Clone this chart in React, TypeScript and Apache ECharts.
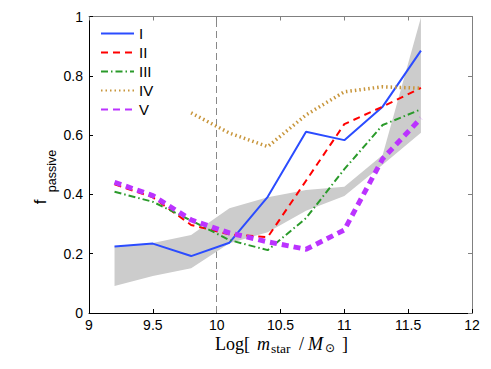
import React, { useEffect, useRef } from "react";
import * as echarts from "echarts";

const xs = [9.2, 9.5, 9.8, 10.1, 10.4, 10.7, 11.0, 11.3, 11.6];
const seriesI = [0.224, 0.234, 0.192, 0.237, 0.392, 0.611, 0.583, 0.696, 0.885];
const seriesII = [0.434, 0.39, 0.297, 0.265, 0.256, 0.446, 0.637, 0.696, 0.759];
const seriesIII = [0.409, 0.375, 0.312, 0.246, 0.212, 0.32, 0.485, 0.634, 0.687];
const seriesIV = [null, null, 0.675, 0.607, 0.561, 0.668, 0.746, 0.763, 0.758];
const seriesV = [0.441, 0.396, 0.314, 0.27, 0.24, 0.215, 0.28, 0.52, 0.657];
const bandLow = [0.091, 0.125, 0.151, 0.235, 0.272, 0.345, 0.395, 0.5, 0.608];
const bandHigh = [0.225, 0.236, 0.263, 0.353, 0.39, 0.415, 0.426, 0.533, 0.997];
const seriesNames = ["I", "II", "III", "IV", "V"];
const xTicks = { min: 9, max: 12, interval: 0.5 };
const yTicks = { min: 0, max: 1, interval: 0.2 };
const markX = 10;

const toPairs = (arr: (number | null)[]) =>
  xs.map((x, i) => [x, arr[i]] as [number, number | null]).filter((p) => p[1] !== null);

export default function App() {
  const ref = useRef<HTMLDivElement>(null);
  useEffect(() => {
    if (!ref.current) return;
    const chart = echarts.init(ref.current, undefined, { renderer: "svg" });
    const sans = "Liberation Sans, Arial, Helvetica, sans-serif";
    const serif = "Liberation Serif, Times New Roman, serif";
    const axisBase = (extra: any) => ({
      type: "value",
      splitLine: { show: false },
      axisTick: { inside: true, length: 4, lineStyle: { color: "#000" } },
      axisLine: { show: true, onZero: false, lineStyle: { color: "#000", width: 1 } },
      axisLabel: { color: "#000", fontSize: 14, fontFamily: sans },
      ...extra,
    });
    const grayAxis = {
      axisTick: { inside: true, length: 4, lineStyle: { color: "#808080" } },
      axisLine: { show: true, onZero: false, lineStyle: { color: "#808080", width: 1 } },
      axisLabel: { show: false },
    };
    const colors = ["#2b4cff", "#ff0000", "#2a9a2a", "#c8963c", "#bb33ff"];
    const styles: any[] = [
      { width: 2, type: "solid" },
      { width: 2, type: [7, 5] },
      { width: 2, type: [7, 3, 1.5, 3] },
      { width: 3.5, type: [1.5, 3] },
      { width: 5, type: [7, 5] },
    ];
    const datas = [seriesI, seriesII, seriesIII, seriesIV, seriesV];
    const lineSeries = seriesNames.map((name, k) => ({
      name,
      type: "line",
      data: toPairs(datas[k]),
      symbol: "none",
      showSymbol: false,
      z: 3,
      lineStyle: { color: colors[k], ...styles[k] },
      itemStyle: { color: colors[k] },
      ...(k === 0
        ? {
            markLine: {
              silent: true,
              symbol: "none",
              label: { show: false },
              lineStyle: { color: "#888", width: 1, type: [7, 4] },
              data: [{ xAxis: markX }],
              z: 1,
            },
          }
        : {}),
    }));
    chart.setOption({
      animation: false,
      grid: { left: 89, right: 19, top: 16.5, bottom: 56, containLabel: false },
      legend: {
        data: seriesNames,
        orient: "vertical",
        left: 95,
        top: 21,
        itemWidth: 33,
        itemHeight: 12,
        itemGap: 4,
        itemStyle: { opacity: 0 },
        textStyle: { fontSize: 15, lineHeight: 14.5, fontFamily: sans, color: "#000" },
      },
      xAxis: [
        axisBase({ ...xTicks, position: "bottom", axisLabel: { color: "#000", fontSize: 14, fontFamily: sans, margin: 5 } }),
        axisBase({ ...xTicks, position: "top", ...grayAxis }),
      ],
      yAxis: [
        axisBase({ ...yTicks, position: "left", axisLabel: { color: "#000", fontSize: 14, fontFamily: sans, margin: 6 } }),
        axisBase({ ...yTicks, position: "right", ...grayAxis }),
      ],
      series: [
        {
          name: "band",
          type: "custom",
          z: 1,
          silent: true,
          data: xs.map((x, i) => [x, bandLow[i], bandHigh[i]]),
          encode: { x: 0, y: [1, 2] },
          renderItem: (params: any, api: any) => {
            if (params.dataIndex !== 0) return null;
            const up = xs.map((x, i) => api.coord([x, bandHigh[i]]));
            const lo = xs.map((x, i) => api.coord([x, bandLow[i]])).reverse();
            return {
              type: "polygon",
              shape: { points: [...up, ...lo] },
              style: { fill: "#cccccc", stroke: "none" },
            };
          },
        },
        ...lineSeries,
      ],
      graphic: [
        { type: "text", x: 40, y: 202, rotation: Math.PI / 2, style: { text: "f", font: `17px ${sans}`, fill: "#000", align: "center", verticalAlign: "middle" } },
        { type: "text", x: 52, y: 171, rotation: Math.PI / 2, style: { text: "passive", font: `12.5px ${sans}`, fill: "#000", align: "center", verticalAlign: "middle" } },
        { type: "text", x: 215, y: 344, style: { text: "Log[", font: `18px ${serif}`, fill: "#000", align: "left", verticalAlign: "middle" } },
        { type: "text", x: 257, y: 344, style: { text: "m", font: `italic 18px ${serif}`, fill: "#000", align: "left", verticalAlign: "middle" } },
        { type: "text", x: 271, y: 348, style: { text: "star", font: `13.5px ${serif}`, fill: "#000", align: "left", verticalAlign: "middle" } },
        { type: "text", x: 299, y: 344, style: { text: "/", font: `18px ${serif}`, fill: "#000", align: "left", verticalAlign: "middle" } },
        { type: "text", x: 308, y: 344, style: { text: "M", font: `italic 18px ${serif}`, fill: "#000", align: "left", verticalAlign: "middle" } },
        { type: "text", x: 325, y: 348, style: { text: "⊙", font: `12px DejaVu Sans, sans-serif`, fill: "#000", align: "left", verticalAlign: "middle" } },
        { type: "text", x: 342, y: 344, style: { text: "]", font: `18px ${serif}`, fill: "#000", align: "left", verticalAlign: "middle" } },
      ],
    });
    return () => chart.dispose();
  }, []);
  return (
    <div
      ref={ref}
      style={{ position: "fixed", left: 0, top: 0, width: 491, height: 369, background: "#fff" }}
    />
  );
}
